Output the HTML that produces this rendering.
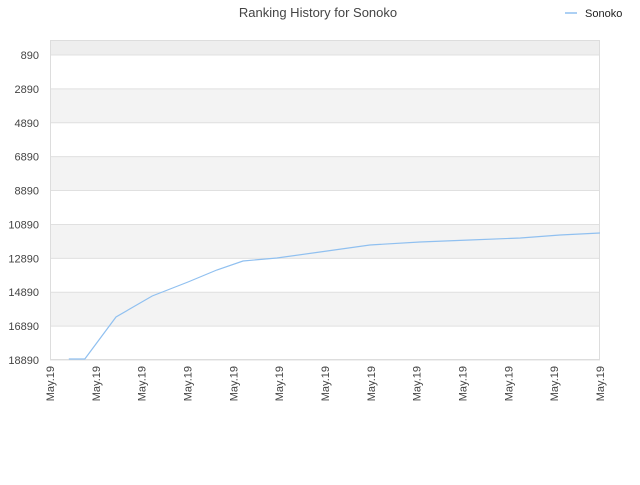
<!DOCTYPE html>
<html><head><meta charset="utf-8"><style>
body{margin:0;background:#fff;font-family:"Liberation Sans","DejaVu Sans",sans-serif;}
</style></head><body>
<svg width="640" height="480" xmlns="http://www.w3.org/2000/svg">
<text x="318" y="17" text-anchor="middle" font-size="13" fill="#444">Ranking History for Sonoko</text>
<g>
<line x1="565" y1="13" x2="577" y2="13" stroke="#90c0f0" stroke-width="1.5"/>
<text x="585" y="17" font-size="11" fill="#222">Sonoko</text>
</g>
<g id="bands"></g><g id="grid"></g><g id="axes"></g><g id="series"></g>
</svg>
<script>
const xTickLabels=["May.19","May.19","May.19","May.19","May.19","May.19","May.19","May.19","May.19","May.19","May.19","May.19","May.19"];
const yTicks=[890,2890,4890,6890,8890,10890,12890,14890,16890,18890];
const xIdx=[0.41,0.76,1.44,2.23,3.01,3.64,4.21,4.95,5.89,6.98,8.07,9.16,10.26,11.13,12];
const ranks=[18832,18832,16353,15114,14288,13579,13048,12871,12517,12104,11927,11809,11691,11514,11396];
const L=50,R=600,T=40,B=360;
const xs=i=>L+i*(R-L)/12;
const ys=r=>55+(r-890)*305/18000;
const NS="http://www.w3.org/2000/svg";
function mk(t,a,p){const e=document.createElementNS(NS,t);for(const k in a)e.setAttribute(k,a[k]);p.appendChild(e);return e;}
const bands=document.getElementById('bands'),grid=document.getElementById('grid'),axes=document.getElementById('axes'),ser=document.getElementById('series');
const topBand=mk('rect',{x:L,y:T,width:R-L,height:ys(890)-T,fill:'#eeeeee'},bands);


for(let i=0;i<yTicks.length-1;i++){
 const r=mk('rect',{x:L,y:ys(yTicks[i]),width:R-L,height:ys(yTicks[i+1])-ys(yTicks[i]),fill:i%2?'#f3f3f3':'#ffffff'},bands);
 
 
}
yTicks.forEach(v=>{
 const y=ys(v);
 const g=mk('line',{x1:L,x2:R,y1:y,y2:y,stroke:'#e0e0e0','stroke-width':1},grid);
 
 
 const t=mk('text',{x:L-11,y:y+4,'text-anchor':'end','font-size':11,fill:'#444'},axes);
 
 
 t.textContent=v;
});
const bx=mk('rect',{x:L+.5,y:T+.5,width:R-L-1,height:B-T-1,fill:'none',stroke:'#dddddd'},axes);


xTickLabels.forEach((s,i)=>{
 const x=xs(i);
 const t=mk('text',{x:x+4,y:B+6,'text-anchor':'end','font-size':11,fill:'#444',transform:`rotate(-90 ${x+4} ${B+6})`},axes);
 
 
 t.textContent=s;
});
const pts=xIdx.map((v,i)=>xs(v).toFixed(1)+','+ys(ranks[i]).toFixed(1)).join(' ');
const pl=mk('polyline',{points:pts,fill:'none',stroke:'#90c0f0','stroke-width':1.2},ser);


</script>
</body></html>
